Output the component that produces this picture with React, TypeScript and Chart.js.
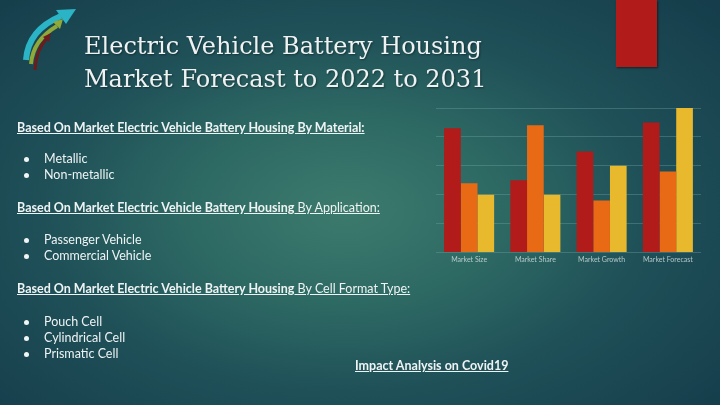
import React, { useEffect, useRef } from "react";
import { Chart, registerables } from "chart.js";

Chart.register(...registerables);

const categories = ["Market Size", "Market Share", "Market Growth", "Market Forecast"];
const series1 = [4.3, 2.5, 3.5, 4.5];
const series2 = [2.4, 4.4, 1.8, 2.8];
const series3 = [2, 2, 3, 5];
const seriesNames = ["Series 1", "Series 2", "Series 3"];
const seriesColors = ["#b11b19", "#e96a15", "#e8b92d"];

const titleLines = ["Electric Vehicle Battery Housing", "Market Forecast to 2022 to 2031"];

function BarChart() {
  const ref = useRef<HTMLCanvasElement | null>(null);
  useEffect(() => {
    if (!ref.current) return;
    const chart = new Chart(ref.current, {
      type: "bar",
      data: {
        labels: categories,
        datasets: [series1, series2, series3].map((d, i) => ({
          label: seriesNames[i],
          data: d,
          backgroundColor: seriesColors[i],
          borderWidth: 0,
          categoryPercentage: 0.755,
          barPercentage: 1,
        })),
      },
      options: {
        animation: false,
        responsive: false,
        maintainAspectRatio: false,
        layout: { padding: { top: 8, left: 0, right: 0, bottom: 0 } },
        plugins: { legend: { display: false }, tooltip: { enabled: false } },
        scales: {
          x: {
            grid: { display: false, drawTicks: false },
            border: { display: false },
            ticks: {
              color: "rgba(205,220,220,0.85)",
              font: { family: "Lato", size: 7 },
              padding: 3,
              maxRotation: 0,
            },
          },
          y: {
            min: 0,
            max: 5,
            ticks: { display: false, stepSize: 1 },
            grid: { color: "rgba(120,170,170,0.35)", lineWidth: 1, drawTicks: false },
            border: { display: false },
          },
        },
      },
    });
    return () => chart.destroy();
  }, []);
  return (
    <canvas
      ref={ref}
      width={265}
      height={167}
      style={{ position: "absolute", left: 436, top: 100, width: 265, height: 167 }}
    />
  );
}

const body: React.CSSProperties = {
  position: "absolute",
  fontFamily: "Lato, 'Open Sans', sans-serif",
  color: "#eef3f3",
  fontSize: 12.5,
  lineHeight: "16px",
  whiteSpace: "nowrap",
};

function Line({ x, y, children, style }: any) {
  return <div style={{ ...body, left: x, top: y, ...style }}>{children}</div>;
}

function Bullet({ y, text }: { y: number; text: string }) {
  return (
    <>
      <div style={{ position: "absolute", left: 24, top: y - 2.5, width: 5, height: 5, borderRadius: 3, background: "#f2f5f5" }} />
      <Line x={44} y={y - 8}>{text}</Line>
    </>
  );
}

export default function App() {
  return (
    <div
      style={{
        position: "fixed",
        left: 0,
        top: 0,
        width: 720,
        height: 405,
        overflow: "hidden",
        background:
          "radial-gradient(ellipse 70% 75% at 48% 52%, #3c7a6d 0%, #2e6a64 30%, #1f5058 60%, #153d4b 100%)",
      }}
    >
      <svg width={100} height={80} style={{ position: "absolute", left: 0, top: 0 }}>
        <path d="M 26 60 Q 28 30 61 16" stroke="#2bb3c6" strokeWidth={6} fill="none" />
        <polygon points="56,10 76,9 66,24" fill="#2bb3c6" />
        <path d="M 31 64 Q 33 40 57 26" stroke="#8fa83a" strokeWidth={4} fill="none" />
        <polygon points="53,22 63,19 60,29" fill="#8fa83a" />
        <path d="M 35 70 Q 36 50 47 38" stroke="#6e1b1e" strokeWidth={3} fill="none" />
        <polygon points="43,37 51,33 49,42" fill="#6e1b1e" />
      </svg>
      <div style={{ position: "absolute", left: 616, top: 0, width: 41, height: 67, background: "#b11b19", boxShadow: "1px 1px 2px rgba(0,0,0,0.5)" }} />
      {titleLines.map((t, i) => (
        <div
          key={i}
          style={{
            position: "absolute",
            left: 84,
            top: 31 + i * 33,
            fontFamily: "'DejaVu Serif', serif",
            fontSize: 24,
            lineHeight: "30px",
            color: "#eef2f2",
            whiteSpace: "nowrap",
            textShadow: "1px 1px 2px rgba(0,0,0,0.4)",
          }}
        >
          {t}
        </div>
      ))}
      <Line x={17} y={120} style={{ fontWeight: 700, textDecoration: "underline" }}>
        Based On Market Electric Vehicle Battery Housing By Material:
      </Line>
      <Bullet y={159} text="Metallic" />
      <Bullet y={175} text="Non-metallic" />
      <Line x={17} y={200} style={{ textDecoration: "underline" }}>
        <b>Based On Market Electric Vehicle Battery Housing</b> By Application:
      </Line>
      <Bullet y={240} text="Passenger Vehicle" />
      <Bullet y={256} text="Commercial Vehicle" />
      <Line x={17} y={281} style={{ textDecoration: "underline" }}>
        <b>Based On Market Electric Vehicle Battery Housing</b> By Cell Format Type:
      </Line>
      <Bullet y={322} text="Pouch Cell" />
      <Bullet y={338} text="Cylindrical Cell" />
      <Bullet y={354} text="Prismatic Cell" />
      <Line x={355} y={358} style={{ fontWeight: 700, textDecoration: "underline" }}>
        Impact Analysis on Covid19
      </Line>
      <BarChart />
    </div>
  );
}
